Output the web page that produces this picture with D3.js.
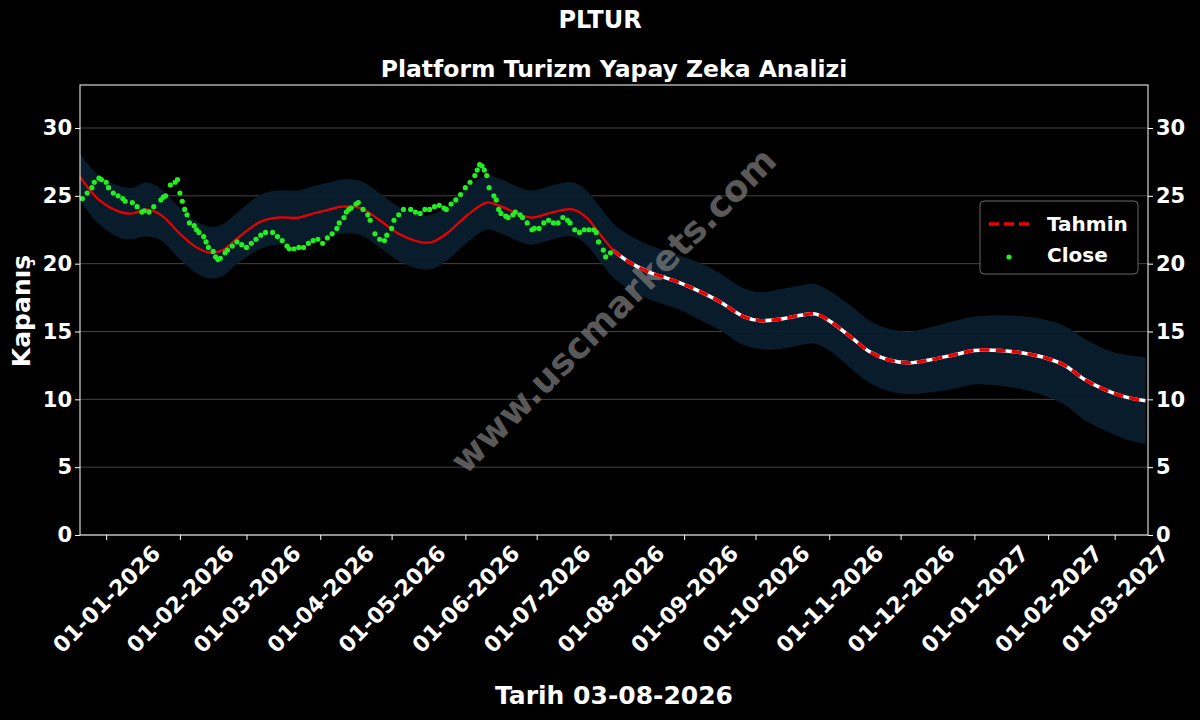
<!DOCTYPE html>
<html><head><meta charset="utf-8">
<script src="https://cdn.jsdelivr.net/npm/d3@7"></script>
<style>body{margin:0;background:#000}svg{display:block}</style></head>
<body><svg id="c" width="1200" height="720"></svg>
<script>
const startDate = new Date(2025, 11, 21);
const endDate = new Date(2027, 2, 15);
const lastCloseDay = 225; // 03-08-2026
const closeDays = [1,3,5,6,8,9,11,12,14,16,18,19,22,24,26,27,29,31,34,35,36,38,40,41,42,43,44,45,46,48,49,50,52,53,54,56,57,58,59,61,62,64,66,68,70,72,74,76,78,81,83,85,87,88,90,92,94,96,98,100,102,104,106,108,109,111,112,113,114,116,117,119,121,122,124,126,128,129,131,132,134,136,139,141,143,145,147,149,151,153,154,156,158,160,162,164,166,167,168,169,170,171,172,174,175,176,177,179,180,182,183,185,186,188,190,191,193,195,197,199,201,203,205,206,208,210,212,214,216,217,218,220,221,223];
const closeVals = [24.8,25.2,25.6,26.0,26.3,26.2,26.0,25.6,25.2,25.0,24.8,24.6,24.5,24.2,23.8,23.9,23.8,24.2,24.7,24.9,25.0,25.8,26.0,26.2,25.2,24.6,24.0,23.6,23.0,22.8,22.5,22.3,22.0,21.6,21.2,20.9,20.5,20.3,20.4,20.8,21.0,21.3,21.6,21.4,21.2,21.5,21.8,22.1,22.3,22.3,22.0,21.7,21.3,21.1,21.1,21.2,21.2,21.5,21.7,21.8,21.5,21.9,22.2,22.6,23.0,23.4,23.8,24.0,24.1,24.4,24.5,24.0,23.6,23.2,22.2,21.8,21.7,22.1,22.6,23.2,23.6,24.0,24.0,23.8,23.7,24.0,24.0,24.2,24.3,24.1,24.0,24.4,24.7,25.1,25.6,26.0,26.5,26.9,27.3,27.2,26.9,26.5,25.6,25.0,24.7,24.0,23.7,23.5,23.4,23.6,23.8,23.6,23.4,23.0,22.5,22.6,22.6,23.0,23.2,23.0,23.0,23.4,23.2,23.0,22.5,22.3,22.5,22.5,22.5,22.3,21.6,21.0,20.5,20.8];
const predDays = [0,8,17,22,28,34,42,49,55,60,67,76,83,92,98,105,110,118,126,134,143,148,154,163,171,176,185,190,199,207,213,218,224,231,239,252,260,269,279,286,294,303,309,315,324,332,340,349,357,368,376,387,397,405,414,422,431,439,448];
const predVals = [26.4,24.7,23.8,23.7,24.0,23.6,22.2,21.2,20.8,21.0,22.0,23.1,23.4,23.4,23.7,24.0,24.2,24.1,23.2,22.2,21.6,21.6,22.2,23.6,24.5,24.3,23.6,23.4,23.8,24.0,23.4,22.3,21.0,20.1,19.4,18.6,18.0,17.2,16.1,15.8,15.9,16.2,16.3,15.8,14.6,13.5,12.9,12.7,12.9,13.3,13.6,13.6,13.4,13.1,12.5,11.5,10.7,10.2,9.9];
const bandHalf = [1.7,1.8,1.9,1.9,2.0,1.9,1.9,1.9,1.9,1.9,1.9,2.0,2.0,2.0,2.0,2.0,2.0,2.0,2.0,2.0,2.0,2.0,2.0,2.0,2.0,2.0,2.0,2.0,2.0,2.0,2.0,2.0,2.0,2.0,2.0,2.0,2.1,2.1,2.1,2.1,2.2,2.2,2.2,2.2,2.3,2.3,2.3,2.3,2.4,2.5,2.5,2.6,2.7,2.8,2.9,3.0,3.0,3.1,3.2];
const yTicks = [0,5,10,15,20,25,30];
const xTickDates = ["2026-01-01","2026-02-01","2026-03-01","2026-04-01","2026-05-01","2026-06-01","2026-07-01","2026-08-01","2026-09-01","2026-10-01","2026-11-01","2026-12-01","2027-01-01","2027-02-01","2027-03-01"];

const dayToDate = d => d3.timeDay.offset(startDate, d);
const svg = d3.select("#c");
const m = {l:80, r:1148, t:85, b:535};
const x = d3.scaleTime().domain([startDate, endDate]).range([m.l, m.r]);
const y = d3.scaleLinear().domain([0, 33.17]).range([m.b, m.t]);
const font = "DejaVu Sans, sans-serif";

svg.append("rect").attr("width",1200).attr("height",720).attr("fill","#000");
svg.append("g").selectAll("line").data(yTicks).join("line")
  .attr("x1",m.l).attr("x2",m.r).attr("y1",d=>y(d)).attr("y2",d=>y(d))
  .attr("stroke","#555").attr("stroke-width",0.8);

const pred = predDays.map((d,i)=>({d:dayToDate(d), day:d, v:predVals[i], h:bandHalf[i]}));
svg.append("path").datum(pred).attr("fill","#0a1e2d").attr("opacity",0.95)
  .attr("d", d3.area().x(p=>x(p.d)).y0(p=>y(p.v-p.h)).y1(p=>y(p.v+p.h)).curve(d3.curveCatmullRom));

svg.append("text").attr("transform","translate(615,312) rotate(-45)").attr("text-anchor","middle")
  .attr("dominant-baseline","middle").attr("font-family",font).attr("font-weight","bold")
  .attr("font-size",36).attr("fill","#777").attr("opacity",0.75).text("www.uscmarkets.com");

const line = d3.line().x(p=>x(p.d)).y(p=>y(p.v)).curve(d3.curveCatmullRom);
const cut = predDays.findIndex(d=>d>=lastCloseDay-4);
const past = pred.slice(0, cut+1), fut = pred.slice(cut);
svg.append("path").datum(past).attr("d",line).attr("fill","none").attr("stroke","#e00").attr("stroke-width",2.2);
svg.append("path").datum(fut).attr("d",line).attr("fill","none").attr("stroke","#fff").attr("stroke-width",3.5);
svg.append("path").datum(fut).attr("d",line).attr("fill","none").attr("stroke","#e00").attr("stroke-width",3.5).attr("stroke-dasharray","10,6");

svg.append("g").selectAll("circle").data(closeDays.map((d,i)=>({d:dayToDate(d),v:closeVals[i]}))).join("circle")
  .attr("cx",p=>x(p.d)).attr("cy",p=>y(p.v)).attr("r",2.6).attr("fill","#22ee22");

svg.append("rect").attr("x",m.l).attr("y",m.t).attr("width",m.r-m.l).attr("height",m.b-m.t)
  .attr("fill","none").attr("stroke","#fff").attr("stroke-width",1);

const yl = d3.axisLeft(y).tickValues(yTicks).tickSize(5);
const yr = d3.axisRight(y).tickValues(yTicks).tickSize(5);
const xa = d3.axisBottom(x).tickValues(xTickDates.map(s=>d3.timeParse("%Y-%m-%d")(s))).tickFormat(d3.timeFormat("%d-%m-%Y")).tickSize(5);
function style(g){g.select(".domain").remove();g.selectAll("line").attr("stroke","#fff");
  g.selectAll("text").attr("fill","#fff").attr("font-family",font).attr("font-weight","bold").attr("font-size",21);}
svg.append("g").attr("transform",`translate(${m.l},0)`).call(yl).call(style);
svg.append("g").attr("transform",`translate(${m.r},0)`).call(yr).call(style);
const gx = svg.append("g").attr("transform",`translate(0,${m.b})`).call(xa).call(style);
gx.selectAll("text").attr("font-size",22).attr("text-anchor","middle").attr("y",0).attr("dy","0.35em")
  .attr("transform","translate(0,64) rotate(-45)");

const T=(t,xx,yy,s)=>svg.append("text").attr("x",xx).attr("y",yy).attr("text-anchor","middle")
  .attr("font-family",font).attr("font-weight","bold").attr("font-size",s).attr("fill","#fff").text(t);
T("PLTUR",600,28,24);
T("Platform Turizm Yapay Zeka Analizi",614,77,23.5);
T("Tarih 03-08-2026",614,704,25);
svg.append("text").attr("transform","translate(30,311) rotate(-90)").attr("text-anchor","middle")
  .attr("font-family",font).attr("font-weight","bold").attr("font-size",25).attr("fill","#fff").text("Kapanış");

const lg = svg.append("g").attr("transform","translate(980,201)");
lg.append("rect").attr("width",158).attr("height",73).attr("rx",4).attr("fill","#000").attr("stroke","#666");
lg.append("line").attr("x1",9).attr("x2",49).attr("y1",23).attr("y2",23).attr("stroke","#e00").attr("stroke-width",3.5).attr("stroke-dasharray","10,5");
lg.append("circle").attr("cx",29).attr("cy",56).attr("r",2.6).attr("fill","#22ee22");
lg.append("text").attr("x",67).attr("y",30).attr("font-family",font).attr("font-weight","bold").attr("font-size",20).attr("fill","#fff").text("Tahmin");
lg.append("text").attr("x",67).attr("y",61).attr("font-family",font).attr("font-weight","bold").attr("font-size",20).attr("fill","#fff").text("Close");
</script></body></html>
